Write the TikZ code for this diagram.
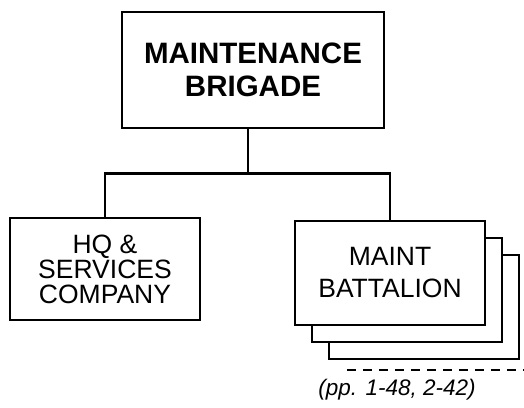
\documentclass[tikz,border=0pt]{standalone}
\usepackage{fontspec}
\setmainfont{Liberation Sans}
\usetikzlibrary{positioning, shadows, calc}

\begin{document}
\begin{tikzpicture}[x=1pt, y=-1pt,
    unit/.style={draw, fill=white, line width=2.8pt, align=center, inner sep=0pt},
    link/.style={line width=2.8pt},
    stacked/.style={copy shadow={shadow xshift=34pt, shadow yshift=-34pt},
                    copy shadow={shadow xshift=17pt, shadow yshift=-17pt}}]
        \useasboundingbox (0,0) rectangle (524,407);
        %
        \node[unit, minimum width=262pt, minimum height=116pt,
              font=\bfseries\fontsize{29.5}{33}\selectfont] (brigade) at (253,70)
              {MAINTENANCE\\BRIGADE};
        %
        \node[unit, minimum width=190pt, minimum height=102pt,
              font=\fontsize{26.5}{25}\selectfont] (hq) at (105,269)
              {HQ \&\\SERVICES\\COMPANY};
        \node[unit, stacked, minimum width=190pt, minimum height=104pt,
              font=\fontsize{26.5}{32}\selectfont] (maint) at (390,273)
              {MAINT\\BATTALION};
        %
        \coordinate (bus) at ($(brigade.south)+(-5,44)$);
        \draw[link] (brigade.south -| bus) -- (bus);
        \draw[link] (hq.north) |- (bus) -| (maint.north);
        %
        \coordinate (dashL) at (347,370);
        \coordinate (dashR) at (524,370);
        \draw[line width=1.2pt, dash pattern=on 9pt off 7pt] (dashL) -- (dashR);
        \node[font=\itshape\fontsize{22.5}{24}\selectfont] (pages) at (397,390)
              {(pp. 1-48, 2-42)};
    \end{tikzpicture}
\end{document}
